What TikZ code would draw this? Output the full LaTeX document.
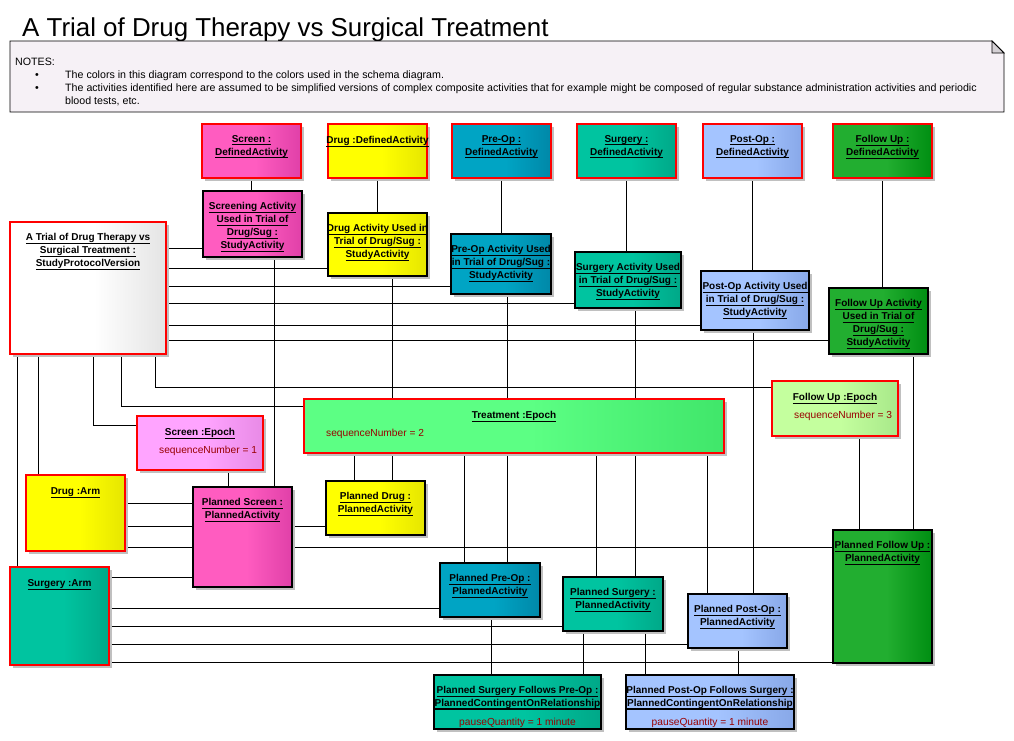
\documentclass[tikz,border=0pt]{standalone}
\usepackage{fontspec}
\setmainfont{Liberation Sans}
\usetikzlibrary{shadows,backgrounds}
\definecolor{scrA}{HTML}{FF5CC0}\definecolor{scrB}{HTML}{E040A8}
\definecolor{drugA}{HTML}{FFFF00}\definecolor{drugB}{HTML}{E6E600}
\definecolor{preA}{HTML}{00A4C4}\definecolor{preB}{HTML}{0088A8}
\definecolor{surgA}{HTML}{00C4A0}\definecolor{surgB}{HTML}{00A888}
\definecolor{postA}{HTML}{A4C4FF}\definecolor{postB}{HTML}{88A8E8}
\definecolor{fuA}{HTML}{22AE30}\definecolor{fuB}{HTML}{008E12}
\definecolor{protoA}{HTML}{FFFFFF}\definecolor{protoB}{HTML}{E4E4E4}
\definecolor{sepA}{HTML}{FFA4FF}\definecolor{sepB}{HTML}{E88AE6}
\definecolor{tepA}{HTML}{5CFF84}\definecolor{tepB}{HTML}{40E66A}
\definecolor{fepA}{HTML}{C4FF9E}\definecolor{fepB}{HTML}{A8E88A}
\definecolor{notefill}{HTML}{F6F1F6}
\definecolor{foldgray}{HTML}{D4D0D4}
\definecolor{shadowgray}{HTML}{C0C0C0}
\definecolor{seqred}{HTML}{990000}
\colorlet{gradA}{white}\colorlet{gradB}{white}
\pgfdeclarehorizontalshading[gradA,gradB]{boxgrad}{100bp}{color(0bp)=(gradA); color(52bp)=(gradA); color(75bp)=(gradB); color(100bp)=(gradB)}
\newcommand\uln[1]{\setbox0=\hbox{#1}\rlap{\rule[-2.6pt]{\wd0}{0.8pt}}\box0}
\tikzset{
  g/.style 2 args={/utils/exec={\colorlet{gradA}{#1}\colorlet{gradB}{#2}}, shading=boxgrad, shade},
  box/.style={draw=black, line width=1.1pt, inner sep=0pt, outer sep=0pt, anchor=north west,
    drop shadow={shadow xshift=3pt, shadow yshift=-3pt, fill=shadowgray, opacity=1}},
  rbox/.style={box, draw=red},
  lbl/.style={font=\bfseries\fontsize{10}{13}\selectfont, align=center, anchor=north, inner sep=0pt,
    execute at begin node={\rule{0pt}{8pt}}},
  seq/.style={font=\fontsize{10.2}{13}\selectfont, text=seqred, inner sep=0pt},
  notetxt/.style={font=\fontsize{10.65}{12}\selectfont, anchor=base west, inner sep=0pt},
  conn/.style={draw=black, line width=0.9pt},
}
\begin{document}
\begin{tikzpicture}[x=1pt, y=-1pt]
\useasboundingbox (0,0) rectangle (1014,740);
% title and notes
\node[font=\fontsize{25.9}{30}\selectfont, anchor=base west, inner sep=0pt] (title) at (22,36) {A Trial of Drug Therapy vs Surgical Treatment};
\draw[fill=notefill, line width=0.8pt] (10,41) -- (992,41) -- (1004,53) -- (1004,112) -- (10,112) -- cycle;
\draw[fill=foldgray, line width=0.8pt] (992,41) -- (992,53) -- (1004,53) -- cycle;
\node[notetxt] (notes) at (15,65) {NOTES:};
\node[notetxt] (bul1) at (35,78) {\textbullet};
\node[notetxt] (bul2) at (35,91) {\textbullet};
\node[notetxt] (note1) at (65,78) {The colors in this diagram correspond to the colors used in the schema diagram.};
\node[notetxt] (note2) at (65,91) {The activities identified here are assumed to be simplified versions of complex composite activities that for example might be composed of regular substance administration activities and periodic};
\node[notetxt] (note3) at (65,104) {blood tests, etc.};

% defined activities
\node[rbox, g={scrA}{scrB}, minimum width=99pt, minimum height=54pt] (scrdef) at (202,124) {};
\node[rbox, g={drugA}{drugB}, minimum width=99pt, minimum height=54pt] (drugdef) at (328,124) {};
\node[rbox, g={preA}{preB}, minimum width=99pt, minimum height=54pt] (predef) at (452,124) {};
\node[rbox, g={surgA}{surgB}, minimum width=99pt, minimum height=54pt] (surgdef) at (577,124) {};
\node[rbox, g={postA}{postB}, minimum width=99pt, minimum height=54pt] (postdef) at (703,124) {};
\node[rbox, g={fuA}{fuB}, minimum width=99pt, minimum height=54pt] (fudef) at (833,124) {};
% study activities
\node[box, g={scrA}{scrB}, minimum width=99pt, minimum height=66pt] (scrsa) at (203,191) {};
\node[box, g={drugA}{drugB}, minimum width=99pt, minimum height=63pt] (drugsa) at (328,213) {};
\node[box, g={preA}{preB}, minimum width=100pt, minimum height=60pt] (presa) at (451,234) {};
\node[box, g={surgA}{surgB}, minimum width=106pt, minimum height=56pt] (surgsa) at (575,252) {};
\node[box, g={postA}{postB}, minimum width=108pt, minimum height=59pt] (postsa) at (701,271) {};
\node[box, g={fuA}{fuB}, minimum width=99pt, minimum height=66pt] (fusa) at (829,288) {};
% protocol
\node[rbox, g={protoA}{protoB}, minimum width=156pt, minimum height=132pt] (proto) at (10,222) {};
% epochs
\node[rbox, g={sepA}{sepB}, minimum width=126pt, minimum height=54pt] (scrEp) at (137,416) {};
\node[rbox, g={tepA}{tepB}, minimum width=420pt, minimum height=54pt] (trEp) at (304,399) {};
\node[rbox, g={fepA}{fepB}, minimum width=126pt, minimum height=55pt] (fuEp) at (772,381) {};
% arms
\node[rbox, g={drugA}{drugB}, minimum width=99pt, minimum height=76pt] (drugArm) at (26,475) {};
\node[rbox, g={surgA}{surgB}, minimum width=99pt, minimum height=98pt] (surgArm) at (10,567) {};
% planned activities
\node[box, g={scrA}{scrB}, minimum width=99pt, minimum height=100pt] (pScr) at (193,487) {};
\node[box, g={drugA}{drugB}, minimum width=99pt, minimum height=54pt] (pDrug) at (326,481) {};
\node[box, g={preA}{preB}, minimum width=100pt, minimum height=54pt] (pPre) at (440,563) {};
\node[box, g={surgA}{surgB}, minimum width=100pt, minimum height=54pt] (pSurg) at (563,577) {};
\node[box, g={postA}{postB}, minimum width=99pt, minimum height=54pt] (pPost) at (688,594) {};
\node[box, g={fuA}{fuB}, minimum width=99pt, minimum height=133pt] (pFU) at (833,530) {};
% relationships
\node[box, g={surgA}{surgB}, minimum width=167pt, minimum height=54pt] (rel1) at (434,675) {};
\node[box, g={postA}{postB}, minimum width=168pt, minimum height=54pt] (rel2) at (626,675) {};
\draw[line width=1.1pt] (rel1.west |- 0,709) -- (rel1.east |- 0,709);
\draw[line width=1.1pt] (rel2.west |- 0,709) -- (rel2.east |- 0,709);

% labels
\node[lbl] (scrdefT) at ([yshift=-11.5pt]scrdef.north) {\uln{Screen :}\\\uln{DefinedActivity}};
\node[lbl] (drugdefT) at ([yshift=-11.5pt]drugdef.north) {\uln{Drug :DefinedActivity}};
\node[lbl] (predefT) at ([yshift=-11.5pt]predef.north) {\uln{Pre-Op :}\\\uln{DefinedActivity}};
\node[lbl] (surgdefT) at ([yshift=-11.5pt]surgdef.north) {\uln{Surgery :}\\\uln{DefinedActivity}};
\node[lbl] (postdefT) at ([yshift=-11.5pt]postdef.north) {\uln{Post-Op :}\\\uln{DefinedActivity}};
\node[lbl] (fudefT) at ([yshift=-11.5pt]fudef.north) {\uln{Follow Up :}\\\uln{DefinedActivity}};
\node[lbl] (scrsaT) at ([yshift=-11.5pt]scrsa.north) {\uln{Screening Activity}\\\uln{Used in Trial of}\\\uln{Drug/Sug :}\\\uln{StudyActivity}};
\node[lbl] (drugsaT) at ([yshift=-11.5pt]drugsa.north) {\uln{Drug Activity Used in}\\\uln{Trial of Drug/Sug :}\\\uln{StudyActivity}};
\node[lbl] (presaT) at ([yshift=-11.5pt]presa.north) {\uln{Pre-Op Activity Used}\\\uln{in Trial of Drug/Sug :}\\\uln{StudyActivity}};
\node[lbl] (surgsaT) at ([yshift=-11.5pt]surgsa.north) {\uln{Surgery Activity Used}\\\uln{in Trial of Drug/Sug :}\\\uln{StudyActivity}};
\node[lbl] (postsaT) at ([yshift=-11.5pt]postsa.north) {\uln{Post-Op Activity Used}\\\uln{in Trial of Drug/Sug :}\\\uln{StudyActivity}};
\node[lbl] (fusaT) at ([yshift=-11.5pt]fusa.north) {\uln{Follow Up Activity}\\\uln{Used in Trial of}\\\uln{Drug/Sug :}\\\uln{StudyActivity}};
\node[lbl] (protoT) at ([yshift=-11.5pt]proto.north) {\uln{A Trial of Drug Therapy vs}\\\uln{Surgical Treatment :}\\\uln{StudyProtocolVersion}};
\node[lbl] (scrEpT) at ([yshift=-11.5pt]scrEp.north) {\uln{Screen :Epoch}};
\node[lbl] (trEpT) at ([yshift=-11.5pt]trEp.north) {\uln{Treatment :Epoch}};
\node[lbl] (fuEpT) at ([yshift=-11.5pt]fuEp.north) {\uln{Follow Up :Epoch}};
\node[seq, anchor=base west] (scrEpS) at ([shift={(22pt,-37.5pt)}]scrEp.north west) {sequenceNumber = 1};
\node[seq, anchor=base west] (trEpS) at ([shift={(22pt,-37.5pt)}]trEp.north west) {sequenceNumber = 2};
\node[seq, anchor=base west] (fuEpS) at ([shift={(22pt,-37.5pt)}]fuEp.north west) {sequenceNumber = 3};
\node[lbl] (drugArmT) at ([yshift=-11.5pt]drugArm.north) {\uln{Drug :Arm}};
\node[lbl] (surgArmT) at ([yshift=-11.5pt]surgArm.north) {\uln{Surgery :Arm}};
\node[lbl] (pScrT) at ([yshift=-11.5pt]pScr.north) {\uln{Planned Screen :}\\\uln{PlannedActivity}};
\node[lbl] (pDrugT) at ([yshift=-11.5pt]pDrug.north) {\uln{Planned Drug :}\\\uln{PlannedActivity}};
\node[lbl] (pPreT) at ([yshift=-11.5pt]pPre.north) {\uln{Planned Pre-Op :}\\\uln{PlannedActivity}};
\node[lbl] (pSurgT) at ([yshift=-11.5pt]pSurg.north) {\uln{Planned Surgery :}\\\uln{PlannedActivity}};
\node[lbl] (pPostT) at ([yshift=-11.5pt]pPost.north) {\uln{Planned Post-Op :}\\\uln{PlannedActivity}};
\node[lbl] (pFUT) at ([yshift=-11.5pt]pFU.north) {\uln{Planned Follow Up :}\\\uln{PlannedActivity}};
\node[lbl] (rel1T) at ([yshift=-11.5pt]rel1.north) {\uln{Planned Surgery Follows Pre-Op :}\\\uln{PlannedContingentOnRelationship}};
\node[lbl] (rel2T) at ([yshift=-11.5pt]rel2.north) {\uln{Planned Post-Op Follows\ Surgery\ :}\\\uln{PlannedContingentOnRelationship}};
\node[seq, anchor=base] (rel1S) at ([yshift=-50.5pt]rel1.north) {pauseQuantity = 1 minute};
\node[seq, anchor=base] (rel2S) at ([yshift=-50.5pt]rel2.north) {pauseQuantity = 1 minute};

% connectors
\begin{scope}[on background layer]
\draw[conn] (scrdef.south) -- (scrdef.south |- scrsa.north);
\draw[conn] (drugdef.south) -- (drugdef.south |- drugsa.north);
\draw[conn] (predef.south) -- (predef.south |- presa.north);
\draw[conn] (surgdef.south) -- (surgdef.south |- surgsa.north);
\draw[conn] (postdef.south) -- (postdef.south |- postsa.north);
\draw[conn] (fudef.south) -- (fudef.south |- fusa.north);
\draw[conn] (proto.east |- 0,248) -- (scrsa.west |- 0,248);
\draw[conn] (proto.east |- 0,268) -- (drugsa.west |- 0,268);
\draw[conn] (proto.east |- 0,286) -- (presa.west |- 0,286);
\draw[conn] (proto.east |- 0,303) -- (surgsa.west |- 0,303);
\draw[conn] (proto.east |- 0,325) -- (postsa.west |- 0,325);
\draw[conn] (proto.east |- 0,340) -- (fusa.west |- 0,340);
\draw[conn] (proto.south -| 155,0) |- (fuEp.west |- 0,387);
\draw[conn] (proto.south -| 121,0) |- (trEp.west |- 0,406);
\draw[conn] (proto.south -| 93,0) |- (scrEp.west |- 0,425);
\draw[conn] (proto.south -| 38,0) -- (drugArm.north -| 38,0);
\draw[conn] (proto.south -| 17,0) -- (surgArm.north -| 17,0);
\draw[conn] (scrsa.south -| 274,0) -- (pScr.north -| 274,0);
\draw[conn] (drugsa.south -| 392,0) -- (pDrug.north -| 392,0);
\draw[conn] (presa.south -| 507,0) -- (pPre.north -| 507,0);
\draw[conn] (surgsa.south -| 635,0) -- (pSurg.north -| 635,0);
\draw[conn] (postsa.south -| 753,0) -- (pPost.north -| 753,0);
\draw[conn] (fusa.south -| 913,0) -- (pFU.north -| 913,0);
\draw[conn] (scrEp.south -| 228,0) -- (pScr.north -| 228,0);
\draw[conn] (trEp.south -| 354,0) -- (pDrug.north -| 354,0);
\draw[conn] (trEp.south -| 464,0) -- (pPre.north -| 464,0);
\draw[conn] (trEp.south -| 596,0) -- (pSurg.north -| 596,0);
\draw[conn] (trEp.south -| 707,0) -- (pPost.north -| 707,0);
\draw[conn] (fuEp.south -| 859,0) -- (pFU.north -| 859,0);
\draw[conn] (drugArm.east |- 0,503) -- (pScr.west |- 0,503);
\draw[conn] (drugArm.east |- 0,526) -- (pDrug.west |- 0,526);
\draw[conn] (drugArm.east |- 0,547) -- (pFU.west |- 0,547);
\draw[conn] (surgArm.east |- 0,577) -- (pScr.west |- 0,577);
\draw[conn] (surgArm.east |- 0,608) -- (pPre.west |- 0,608);
\draw[conn] (surgArm.east |- 0,626) -- (pSurg.west |- 0,626);
\draw[conn] (surgArm.east |- 0,644) -- (pPost.west |- 0,644);
\draw[conn] (surgArm.east |- 0,662) -- (pFU.west |- 0,662);
\draw[conn] (pPre.south -| 491,0) -- (rel1.north -| 491,0);
\draw[conn] (pSurg.south -| 583,0) -- (rel1.north -| 583,0);
\draw[conn] (pSurg.south -| 645,0) -- (rel2.north -| 645,0);
\draw[conn] (pPost.south -| 738,0) -- (rel2.north -| 738,0);
\end{scope}
\end{tikzpicture}
\end{document}
